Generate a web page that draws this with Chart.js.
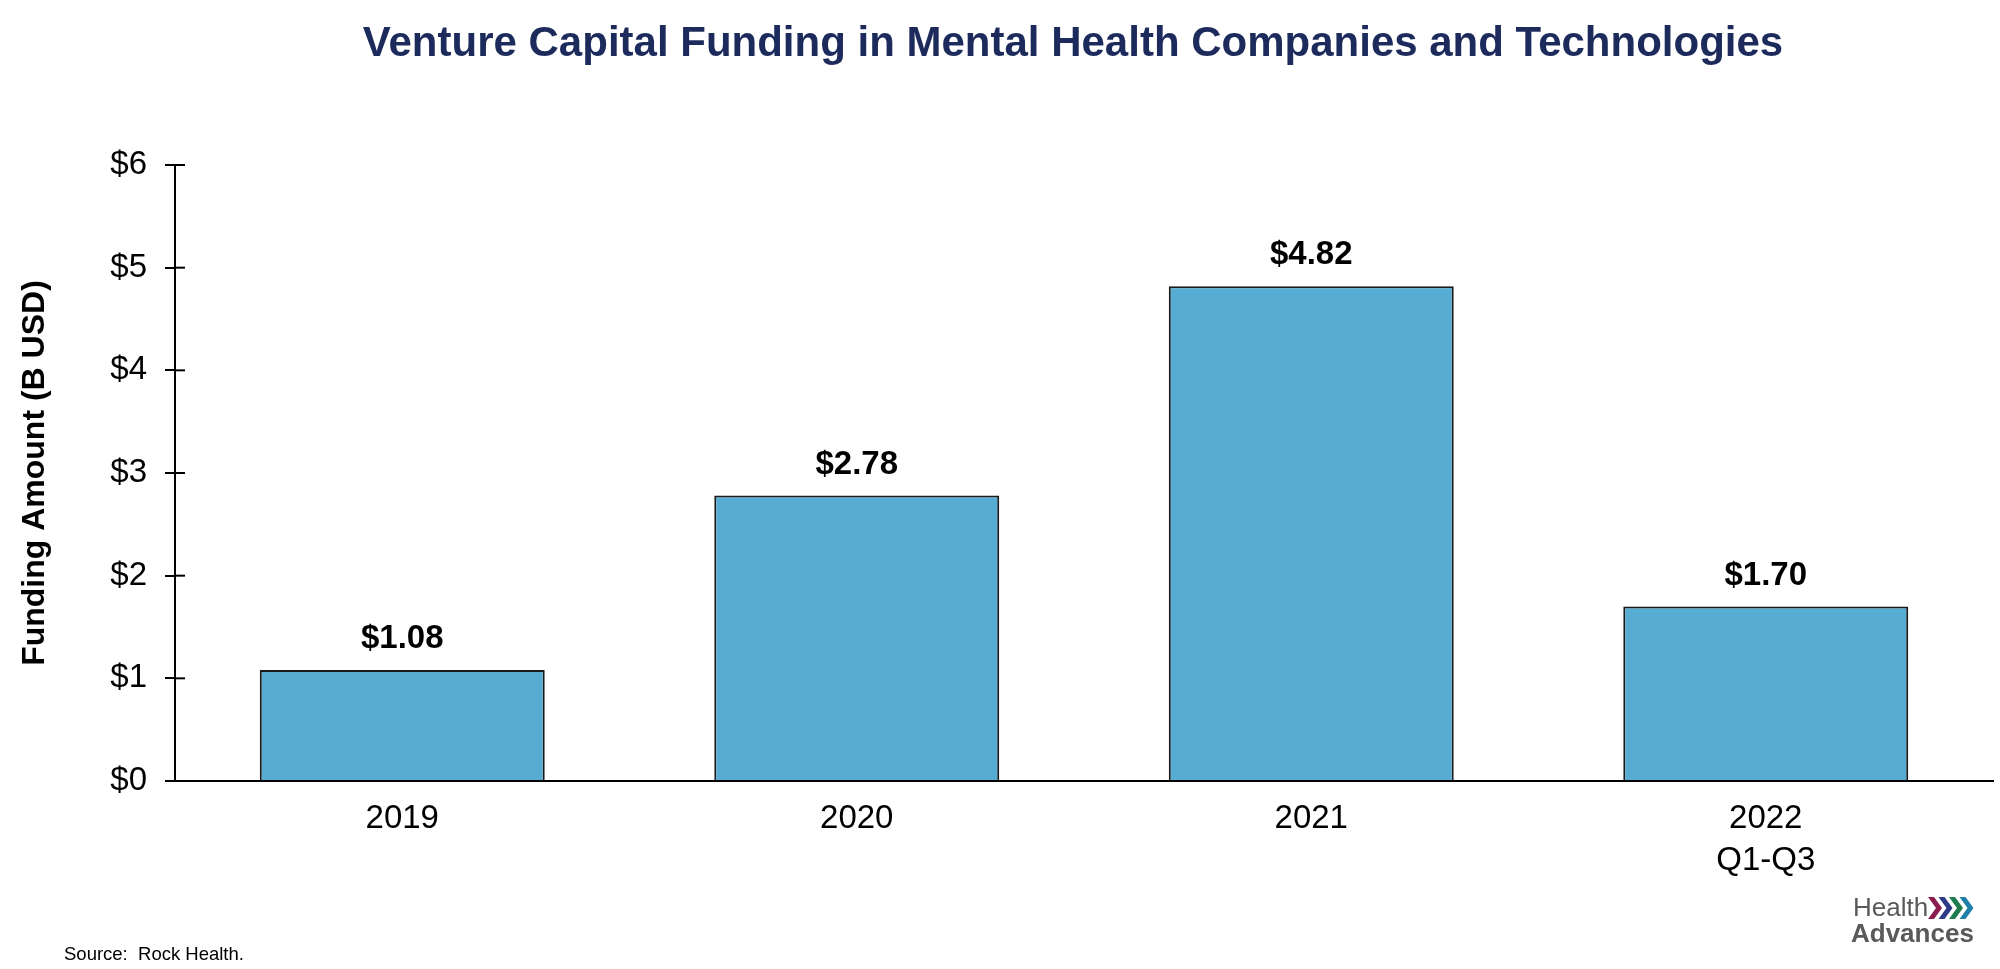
<!DOCTYPE html>
<html>
<head>
<meta charset="utf-8">
<script src="https://cdn.jsdelivr.net/npm/chart.js@4.4.1/dist/chart.umd.min.js"></script>
<style>
  html, body { margin: 0; padding: 0; background: #fff; }
  #wrap { width: 2000px; height: 969px; position: relative; }
</style>
</head>
<body>
<div id="wrap"><canvas id="vcChart" width="2000" height="969"></canvas></div>
<script>
// data
const years = [["2019"], ["2020"], ["2021"], ["2022", "Q1-Q3"]];
const funding = [1.08, 2.78, 4.82, 1.70];
const yTicks = [0, 1, 2, 3, 4, 5, 6];

const FONT = "'Liberation Sans', Arial, sans-serif";
const titleText = "Venture Capital Funding in Mental Health Companies and Technologies";
const sourceText = "Source:  Rock Health.";

// value labels above each bar
const barLabels = {
  id: 'barLabels',
  afterDatasetsDraw(chart) {
    const ctx = chart.ctx;
    const meta = chart.getDatasetMeta(0);
    ctx.save();
    ctx.font = "bold 33px " + FONT;
    ctx.fillStyle = "#000";
    ctx.textAlign = "center";
    ctx.textBaseline = "middle";
    meta.data.forEach((bar, i) => {
      ctx.fillText("$" + funding[i].toFixed(2), bar.x, bar.y - 31);
    });
    ctx.restore();
  }
};

// y ticks cross the axis line (inner half)
const innerTicks = {
  id: 'innerTicks',
  afterDraw(chart) {
    const y = chart.scales.y;
    const ctx = chart.ctx;
    ctx.save();
    ctx.strokeStyle = "#000";
    ctx.lineWidth = 2;
    y.ticks.forEach(t => {
      const py = y.getPixelForValue(t.value);
      ctx.beginPath();
      ctx.moveTo(y.right, py);
      ctx.lineTo(y.right + 10, py);
      ctx.stroke();
    });
    ctx.restore();
  }
};

// title, source note and logo
const decorations = {
  id: 'decorations',
  afterDraw(chart) {
    const ctx = chart.ctx;
    ctx.save();
    ctx.textBaseline = "middle";
    ctx.textAlign = "center";
    ctx.fillStyle = "#1c2b5c";
    ctx.font = "bold 42px " + FONT;
    ctx.fillText(titleText, 1073, 44);

    ctx.textAlign = "left";
    ctx.fillStyle = "#000";
    ctx.font = "18.5px " + FONT;
    ctx.fillText(sourceText, 64, 955);

    // logo
    ctx.fillStyle = "#58595b";
    ctx.font = "26px " + FONT;
    ctx.fillText("Health", 1853, 909);
    ctx.font = "bold 26px " + FONT;
    ctx.fillText("Advances", 1851, 935);
    const chev = ["#8a1c4f", "#2e3a86", "#1f7a4d", "#1f7fa8"];
    chev.forEach((c, i) => {
      const x0 = 1928 + i * 10.5;
      ctx.fillStyle = c;
      ctx.beginPath();
      ctx.moveTo(x0, 897);
      ctx.lineTo(x0 + 6, 897);
      ctx.lineTo(x0 + 14, 908);
      ctx.lineTo(x0 + 6, 919);
      ctx.lineTo(x0, 919);
      ctx.lineTo(x0 + 8, 908);
      ctx.closePath();
      ctx.fill();
    });
    ctx.restore();
  }
};

const ctx = document.getElementById('vcChart').getContext('2d');
window.vcChartObj = new Chart(ctx, {
  type: 'bar',
  data: {
    labels: years,
    datasets: [{
      label: 'Funding Amount (B USD)',
      data: funding,
      backgroundColor: '#56acd2',
      borderColor: '#1a1a1a',
      borderWidth: 2,
      categoryPercentage: 1,
      barPercentage: 0.627
    }]
  },
  options: {
    responsive: false,
    animation: false,
    layout: { padding: { top: 165, right: 7, bottom: 0, left: 0 } },
    plugins: {
      legend: { display: false },
      tooltip: { enabled: false },
      title: { display: false }
    },
    scales: {
      x: {
        grid: { display: false, drawTicks: false },
        border: { display: true, color: '#000', width: 2 },
        ticks: {
          color: '#000',
          padding: 17,
          font: { family: FONT, size: 33, lineHeight: 1.27 }
        },
        afterFit(scale) { scale.height = 188; }
      },
      y: {
        min: 0,
        max: 6,
        afterBuildTicks(scale) { scale.ticks = yTicks.map(v => ({ value: v })); },
        grid: { drawOnChartArea: false, drawTicks: true, tickLength: 10, color: '#000', lineWidth: 2 },
        border: { display: true, color: '#000', width: 2 },
        ticks: {
          color: '#000',
          padding: 18,
          font: { family: FONT, size: 33 },
          callback: v => '$' + v
        },
        title: {
          display: true,
          text: 'Funding Amount (B USD)',
          color: '#000',
          padding: { top: 16, bottom: 0 },
          font: { family: FONT, size: 32, weight: 'bold' }
        },
        afterFit(scale) { scale.width = 175; }
      }
    }
  },
  plugins: [barLabels, innerTicks, decorations]
});
</script>
</body>
</html>
